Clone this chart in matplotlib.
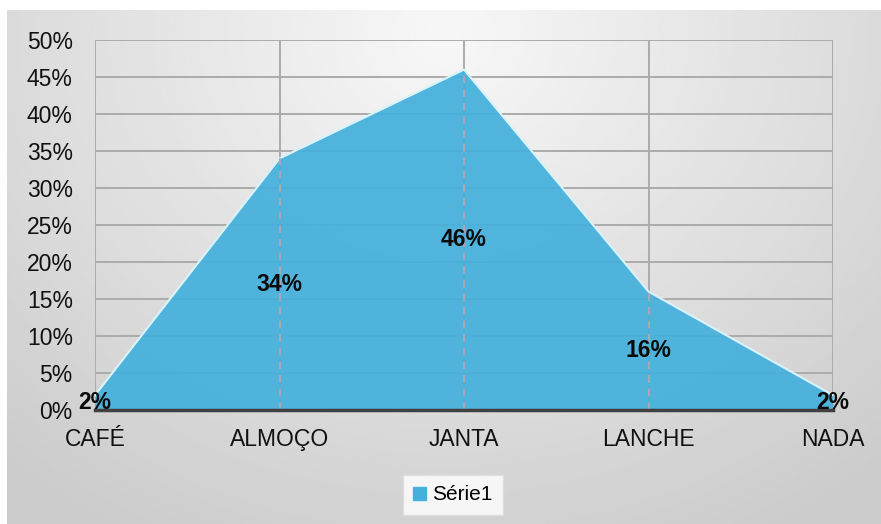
import numpy as np
import matplotlib.pyplot as plt

plt.rcParams['font.family'] = ['Liberation Sans', 'DejaVu Sans']

# refeições e percentuais
categorias = ['CAFÉ', 'ALMOÇO', 'JANTA', 'LANCHE', 'NADA']
valores = [0.02, 0.34, 0.46, 0.16, 0.02]
rotulos = ['2%', '34%', '46%', '16%', '2%']
serie = 'Série1'

fig = plt.figure(figsize=(8.81, 5.24), dpi=100)
fig.patch.set_facecolor('white')

# fundo cinza em degradê
bg = fig.add_axes([7 / 881, 0, 1 - 7 / 881, 1 - 10 / 524])
yy, xx = np.mgrid[0:1:300j, 0:1:500j]
r = np.sqrt(((xx - 0.5) / 0.75) ** 2 + ((yy - 0.05) / 1.1) ** 2)
bg.imshow(0.97 - 0.17 * np.clip(r, 0, 1), cmap='gray', vmin=0, vmax=1,
          aspect='auto', extent=[0, 1, 1, 0], interpolation='bilinear')
bg.set_axis_off()

ax = fig.add_axes([95 / 881, 1 - 410 / 524, (833 - 95) / 881, (410 - 40) / 524])
ax.set_facecolor('none')
x = np.arange(len(categorias))

ax.set_xlim(0, len(categorias) - 1)
ax.set_ylim(0, 0.5)
ax.set_yticks(np.arange(0, 0.51, 0.05))
ax.set_yticklabels([f'{int(round(v * 100))}%' for v in np.arange(0, 0.51, 0.05)])
ax.set_xticks(x)
ax.set_xticklabels(categorias)

ax.grid(True, color='#ababab', linewidth=1.4, zorder=0)
ax.set_axisbelow(True)
for s in ['top', 'left', 'right']:
    ax.spines[s].set_visible(False)
ax.spines['bottom'].set_color('#404040')
ax.spines['bottom'].set_linewidth(2.5)
ax.spines['bottom'].set_zorder(5)
ax.tick_params(length=0, labelsize=16.5, colors='#111111')
ax.tick_params(axis='x', pad=13)
ax.tick_params(axis='y', pad=16)

ax.fill_between(x, valores, color='#45b0dc', alpha=0.93, zorder=2, linewidth=0)
ax.plot(x, valores, color='#d8f3fb', linewidth=1.5, zorder=3)

# linhas de projeção tracejadas
ax.vlines(x[1:-1], 0, valores[1:-1], colors='#b0a4b4', linestyles=(0, (4, 3)),
          linewidth=1.4, zorder=3)

for xi, v, t in zip(x, valores, rotulos):
    ax.text(xi, v / 2, t, ha='center', va='center', fontsize=16.5,
            fontweight='bold', color='#0a0a0a', zorder=6)

leg_h = ax.fill_between([], [], color='#45b0dc', label=serie)
leg = fig.legend(handles=[leg_h], loc='center', bbox_to_anchor=(453 / 881, 1 - 495 / 524),
                 fontsize=15, frameon=True, handlelength=0.6, handleheight=0.6,
                 handletextpad=0.3, borderpad=0.5, fancybox=False)
leg.get_frame().set_facecolor('white')
leg.get_frame().set_edgecolor('#dddddd')

fig.savefig('out.png', dpi=100)
